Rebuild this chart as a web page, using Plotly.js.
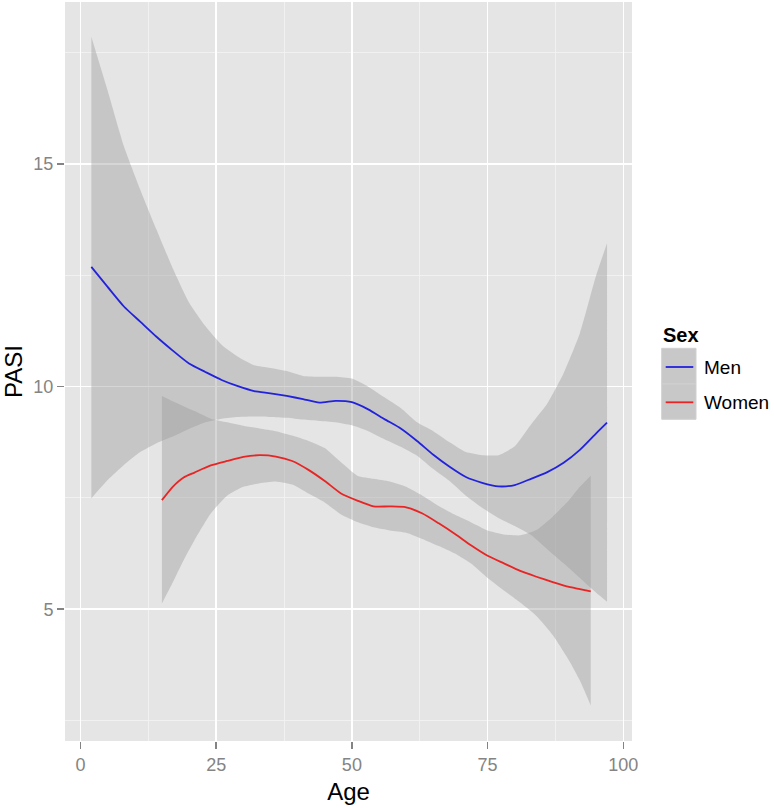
<!DOCTYPE html>
<html>
<head>
<meta charset="utf-8">
<script src="https://cdn.plot.ly/plotly-3.0.1.min.js"></script>
<style>
  html, body { margin: 0; padding: 0; background: #ffffff; }
  #chart { width: 774px; height: 808px; }
</style>
</head>
<body>
<div id="chart"></div>
<script>
// ---- Data ----
const menAge   = [2, 5, 8, 11, 14, 17, 20, 23, 26, 29, 32, 35, 38, 41, 44, 47, 50, 53, 56, 59, 62, 65, 68, 71, 74, 77, 80, 83, 86, 89, 92, 95, 97];
const menFit   = [12.69, 12.24, 11.80, 11.46, 11.12, 10.81, 10.52, 10.33, 10.15, 10.01, 9.90, 9.85, 9.79, 9.72, 9.64, 9.68, 9.65, 9.49, 9.27, 9.06, 8.78, 8.47, 8.20, 7.97, 7.84, 7.76, 7.79, 7.93, 8.08, 8.29, 8.58, 8.95, 9.19];
const menUpper = [17.86, 16.65, 15.40, 14.43, 13.53, 12.66, 11.89, 11.36, 10.94, 10.67, 10.48, 10.42, 10.35, 10.24, 10.22, 10.22, 10.18, 10.00, 9.76, 9.52, 9.20, 9.00, 8.75, 8.53, 8.46, 8.46, 8.66, 9.15, 9.62, 10.30, 11.20, 12.50, 13.22];
const menLower = [7.49, 7.90, 8.24, 8.53, 8.73, 8.88, 9.05, 9.20, 9.28, 9.32, 9.33, 9.32, 9.30, 9.26, 9.23, 9.20, 9.13, 9.00, 8.82, 8.65, 8.45, 8.15, 7.88, 7.55, 7.28, 7.05, 6.87, 6.67, 6.35, 6.03, 5.70, 5.37, 5.17];

const womenAge   = [15, 17, 19, 21, 24, 27, 30, 33, 36, 39, 42, 45, 48, 51, 54, 57, 60, 63, 66, 69, 72, 75, 78, 81, 84, 87, 90, 92, 94];
const womenFit   = [7.45, 7.75, 7.96, 8.07, 8.23, 8.33, 8.42, 8.46, 8.43, 8.33, 8.13, 7.88, 7.60, 7.44, 7.31, 7.31, 7.29, 7.15, 6.93, 6.69, 6.43, 6.20, 6.03, 5.86, 5.73, 5.61, 5.50, 5.45, 5.40];
const womenUpper = [9.79, 9.67, 9.56, 9.45, 9.28, 9.20, 9.12, 9.06, 9.00, 8.90, 8.78, 8.62, 8.30, 8.00, 7.93, 7.87, 7.75, 7.55, 7.32, 7.12, 6.95, 6.77, 6.68, 6.66, 6.78, 7.08, 7.45, 7.75, 8.00];
const womenLower = [5.13, 5.60, 6.10, 6.55, 7.15, 7.55, 7.75, 7.83, 7.87, 7.80, 7.60, 7.40, 7.13, 6.96, 6.84, 6.77, 6.72, 6.58, 6.42, 6.25, 6.02, 5.70, 5.42, 5.15, 4.85, 4.42, 3.85, 3.40, 2.84];

const seriesNames = ['Men', 'Women'];
const legendTitle = 'Sex';
const xTicks = [0, 25, 50, 75, 100];
const xMinor = [12.5, 37.5, 62.5, 87.5];
const yTicks = [5, 10, 15];
const yMinor = [2.5, 7.5, 12.5, 17.5];
const xTitle = 'Age';
const yTitle = 'PASI';

// ---- Styling ----
const ribbonFill = 'rgba(153,153,153,0.4)';
const menColor = '#2222dd';
const womenColor = '#e82424';
const FONT = '"Liberation Sans", Arial, sans-serif';
const tickGrey = '#848484';

const W = 774, H = 808;
const M = { l: 65, r: 142, t: 2, b: 67 };
const plotW = W - M.l - M.r, plotH = H - M.t - M.b;
const px2x = p => (p - M.l) / plotW;
const px2y = p => (H - M.b - p) / plotH;

function ribbon(x, lo, hi) {
  return [
    { x: x, y: lo, type: 'scatter', mode: 'lines', line: { width: 0, shape: 'spline', smoothing: 0.5 }, hoverinfo: 'skip', showlegend: false },
    { x: x, y: hi, type: 'scatter', mode: 'lines', line: { width: 0, shape: 'spline', smoothing: 0.5 }, fill: 'tonexty', fillcolor: ribbonFill, hoverinfo: 'skip', showlegend: false }
  ];
}

const traces = [
  ...ribbon(menAge, menLower, menUpper),
  ...ribbon(womenAge, womenLower, womenUpper),
  { x: menAge, y: menFit, type: 'scatter', mode: 'lines', name: seriesNames[0], line: { color: menColor, width: 1.8, shape: 'spline', smoothing: 0.6 }, showlegend: false },
  { x: womenAge, y: womenFit, type: 'scatter', mode: 'lines', name: seriesNames[1], line: { color: womenColor, width: 1.8, shape: 'spline', smoothing: 0.6 }, showlegend: false }
];

const keyX0 = px2x(661.7), keyX1 = px2x(696);
const lineX0 = px2x(665.7), lineX1 = px2x(693.3);
const textX = px2x(701.5);

const layout = {
  width: W, height: H,
  margin: M,
  paper_bgcolor: '#ffffff',
  plot_bgcolor: '#e5e5e5',
  showlegend: false,
  font: { family: FONT, color: tickGrey },
  xaxis: {
    range: [-2.85, 101.6],
    tickmode: 'array', tickvals: xTicks, ticktext: xTicks.map(String),
    ticks: 'outside', ticklen: 7, tickwidth: 1.5, tickcolor: tickGrey,
    tickfont: { family: FONT, size: 18, color: tickGrey },
    showgrid: true, gridcolor: '#ffffff', gridwidth: 1.6,
    minor: { tickmode: 'array', tickvals: xMinor, showgrid: true, gridcolor: '#f2f2f2', gridwidth: 0.9, ticks: '' },
    zeroline: false, showline: false, automargin: false,
    title: { text: xTitle, font: { family: FONT, size: 24, color: '#000000' }, standoff: 9 }
  },
  yaxis: {
    range: [2.04, 18.64],
    tickmode: 'array', tickvals: yTicks, ticktext: yTicks.map(String),
    ticks: 'outside', ticklen: 7, tickwidth: 1.5, tickcolor: tickGrey,
    tickfont: { family: FONT, size: 18, color: tickGrey },
    showgrid: true, gridcolor: '#ffffff', gridwidth: 1.6,
    minor: { tickmode: 'array', tickvals: yMinor, showgrid: true, gridcolor: '#f2f2f2', gridwidth: 0.9, ticks: '' },
    zeroline: false, showline: false, automargin: false,
    title: { text: yTitle, font: { family: FONT, size: 24, color: '#000000' }, standoff: 6 }
  },
  shapes: [
    { type: 'rect', xref: 'paper', yref: 'paper', x0: keyX0, x1: keyX1, y0: px2y(384), y1: px2y(348.3), fillcolor: 'rgb(200,200,200)', line: { width: 1, color: 'rgb(208,208,208)' } },
    { type: 'rect', xref: 'paper', yref: 'paper', x0: keyX0, x1: keyX1, y0: px2y(419.3), y1: px2y(384), fillcolor: 'rgb(200,200,200)', line: { width: 1, color: 'rgb(208,208,208)' } },
    { type: 'line', xref: 'paper', yref: 'paper', x0: lineX0, x1: lineX1, y0: px2y(367), y1: px2y(367), line: { color: menColor, width: 1.8 } },
    { type: 'line', xref: 'paper', yref: 'paper', x0: lineX0, x1: lineX1, y0: px2y(402.3), y1: px2y(402.3), line: { color: womenColor, width: 1.8 } }
  ],
  annotations: [
    { xref: 'paper', yref: 'paper', x: px2x(661), y: px2y(335), xanchor: 'left', yanchor: 'middle', showarrow: false, text: '<b>' + legendTitle + '</b>', font: { family: FONT, size: 20, color: '#000000' } },
    { xref: 'paper', yref: 'paper', x: textX, y: px2y(367), xanchor: 'left', yanchor: 'middle', showarrow: false, text: seriesNames[0], font: { family: FONT, size: 19, color: '#000000' } },
    { xref: 'paper', yref: 'paper', x: textX, y: px2y(402.3), xanchor: 'left', yanchor: 'middle', showarrow: false, text: seriesNames[1], font: { family: FONT, size: 19, color: '#000000' } }
  ]
};

Plotly.newPlot('chart', traces, layout, { staticPlot: true, displayModeBar: false });
</script>
</body>
</html>
